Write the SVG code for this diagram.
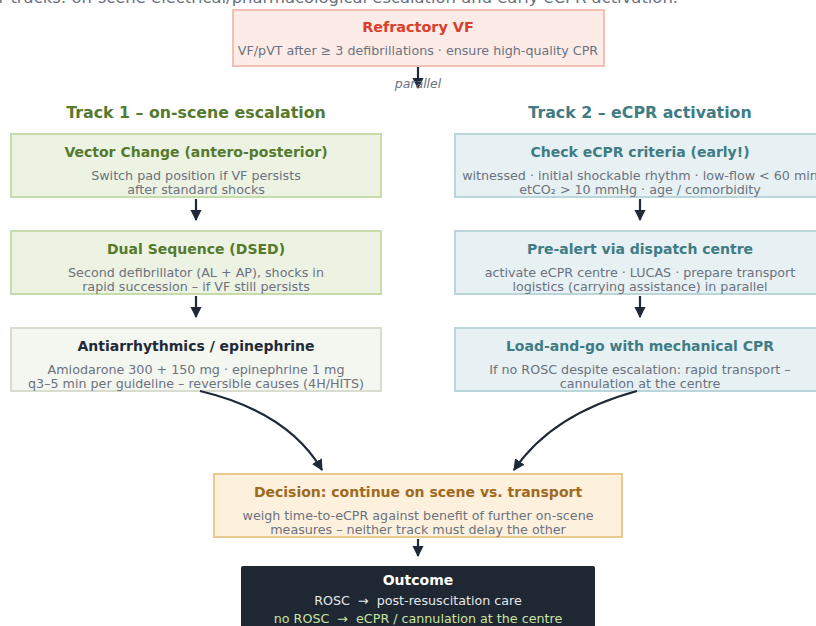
<svg xmlns="http://www.w3.org/2000/svg" width="816" height="626" viewBox="0 0 816 626">
<defs>
<style>
text{font-family:"DejaVu Sans","Liberation Sans",sans-serif;}
.t{font-size:14px;font-weight:bold;text-anchor:middle;}
.s{font-size:12.7px;fill:#6b7280;text-anchor:middle;}
.h{font-size:15.8px;font-weight:bold;text-anchor:middle;}
.g{fill:#edf3e3;stroke:#c6dcaa;stroke-width:2;}
.b{fill:#e7f0f2;stroke:#bad6db;stroke-width:2;}
.gt{fill:#557a2e;}
.bt{fill:#3f7c84;}
.c{fill:none;stroke:#1f2937;stroke-width:2.2;}
</style>
<marker id="ah" viewBox="0 0 10 10" refX="9" refY="5" markerWidth="5.2" markerHeight="5.2" orient="auto" markerUnits="strokeWidth">
<path d="M0,0 L10,5 L0,10 Z" fill="#1f2937"/>
</marker>
</defs>
<rect width="816" height="626" fill="#ffffff"/>
<text x="678" y="3" style="font-size:16.4px;fill:#6b7280;text-anchor:end">r tracks: on-scene electrical/pharmacological escalation and early eCPR activation.</text>

<g id="refractory">
<rect x="233" y="10" width="371" height="56" fill="#fdebe7" stroke="#f1bfb4" stroke-width="2"/>
<text x="418" y="32" class="t" style="font-size:14.4px;fill:#d7402a">Refractory VF</text>
<text x="418" y="55" class="s">VF/pVT after ≥ 3 defibrillations · ensure high-quality CPR</text>
</g>

<g id="track1-label"><text x="196" y="118" class="h gt">Track 1 – on-scene escalation</text></g>
<g id="track2-label"><text x="640" y="118" class="h bt">Track 2 – eCPR activation</text></g>

<g id="vector">
<rect x="11" y="134" width="370" height="63" class="g"/>
<text x="196" y="157" class="t gt">Vector Change (antero-posterior)</text>
<text x="196" y="180" class="s">Switch pad position if VF persists</text>
<text x="196" y="194" class="s">after standard shocks</text>
</g>
<g id="dsed">
<rect x="11" y="231" width="370" height="63" class="g"/>
<text x="196" y="254" class="t gt">Dual Sequence (DSED)</text>
<text x="196" y="277" class="s">Second defibrillator (AL + AP), shocks in</text>
<text x="196" y="291" class="s">rapid succession – if VF still persists</text>
</g>
<g id="drugs">
<rect x="11" y="328" width="370" height="63" fill="#f4f6f0" stroke="#d8ddd0" stroke-width="2"/>
<text x="196" y="351" class="t" style="fill:#1f2937">Antiarrhythmics / epinephrine</text>
<text x="196" y="374" class="s">Amiodarone 300 + 150 mg · epinephrine 1 mg</text>
<text x="196" y="388" class="s">q3–5 min per guideline – reversible causes (4H/HITS)</text>
</g>

<g id="criteria">
<rect x="455" y="134" width="370" height="63" class="b"/>
<text x="640" y="157" class="t bt">Check eCPR criteria (early!)</text>
<text x="640" y="180" class="s">witnessed · initial shockable rhythm · low-flow &lt; 60 min</text>
<text x="640" y="194" class="s">etCO₂ &gt; 10 mmHg · age / comorbidity</text>
</g>
<g id="prealert">
<rect x="455" y="231" width="370" height="63" class="b"/>
<text x="640" y="254" class="t bt">Pre-alert via dispatch centre</text>
<text x="640" y="277" class="s">activate eCPR centre · LUCAS · prepare transport</text>
<text x="640" y="291" class="s">logistics (carrying assistance) in parallel</text>
</g>
<g id="loadgo">
<rect x="455" y="328" width="370" height="63" class="b"/>
<text x="640" y="351" class="t bt">Load-and-go with mechanical CPR</text>
<text x="640" y="374" class="s">If no ROSC despite escalation: rapid transport –</text>
<text x="640" y="388" class="s">cannulation at the centre</text>
</g>

<g id="decision">
<rect x="214" y="474" width="408" height="63" fill="#fdf0dc" stroke="#e9c98f" stroke-width="2"/>
<text x="418" y="497" class="t" style="fill:#a06a1e">Decision: continue on scene vs. transport</text>
<text x="418" y="520" class="s">weigh time-to-eCPR against benefit of further on-scene</text>
<text x="418" y="534" class="s">measures – neither track must delay the other</text>
</g>

<g id="outcome">
<rect x="241" y="566" width="354" height="70" rx="2" fill="#1f2733"/>
<text x="418" y="585" class="t" style="fill:#ffffff">Outcome</text>
<text x="418" y="605" class="s" style="fill:#e5e7eb;white-space:pre">ROSC  →  post-resuscitation care</text>
<text x="418" y="623" class="s" style="fill:#c9e4a3;white-space:pre">no ROSC  →  eCPR / cannulation at the centre</text>
</g>

<g id="connectors">
<line x1="418" y1="67" x2="418" y2="88" class="c" marker-end="url(#ah)"/>
<text x="418" y="88" style="font-size:12.5px;font-style:italic;fill:#6b7280;text-anchor:middle">parallel</text>
<line x1="196" y1="199" x2="196" y2="220" class="c" marker-end="url(#ah)"/>
<line x1="196" y1="296" x2="196" y2="317" class="c" marker-end="url(#ah)"/>
<line x1="640" y1="199" x2="640" y2="220" class="c" marker-end="url(#ah)"/>
<line x1="640" y1="296" x2="640" y2="317" class="c" marker-end="url(#ah)"/>
<path d="M200,391 Q288,412 322,470" class="c" marker-end="url(#ah)"/>
<path d="M637,391 Q552,414 514,470" class="c" marker-end="url(#ah)"/>
<line x1="418" y1="539" x2="418" y2="556" class="c" marker-end="url(#ah)"/>
</g>
</svg>
